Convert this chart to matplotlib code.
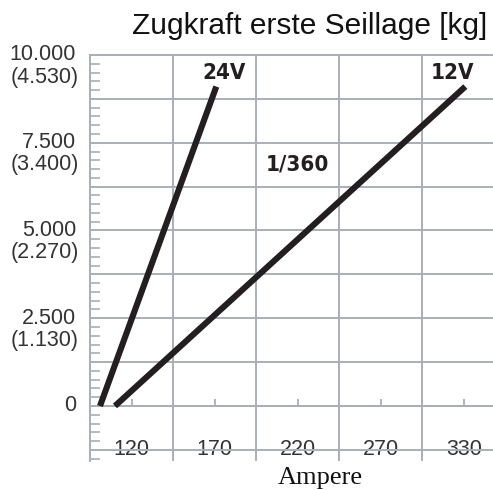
import numpy as np
import matplotlib
matplotlib.use("Agg")
import matplotlib.pyplot as plt
from matplotlib.ticker import MultipleLocator

plt.rcParams["font.family"] = ["Liberation Sans", "DejaVu Sans"]

# Ampere tick labels (axis is not linear: 270 -> 330 takes one cell)
amp_ticks = [120, 170, 220, 270, 330]
amp_cells = [145, 195, 245, 300]  # cell borders between the labels

# y ticks: kg with (daN) in brackets
kg_ticks = [0, 2500, 5000, 7500, 10000]
kg_top = ["0", "2.500", "5.000", "7.500", "10.000"]
kg_bottom = ["", "(1.130)", "(2.270)", "(3.400)", "(4.530)"]

# lines
v24_amp = [101, 171]
v24_kg = [0, 9100]
v12_amp = [110, 331]
v12_kg = [0, 9100]

grid_col = "#a9afb5"
line_col = "#231f20"
text_col = "#333333"

# piecewise linear amp -> cell mapping
_a = [20, 120, 170, 220, 270, 330, 450]
_p = [-1.5, 0.5, 1.5, 2.5, 3.5, 4.5, 6.5]


def fwd(a):
    return np.interp(a, _a, _p)


def inv(p):
    return np.interp(p, _p, _a)


fig = plt.figure(figsize=(4.93, 4.90), dpi=100)
ax = fig.add_axes([0.1826, 0.0592, 1 - 0.1826, 0.8878 - 0.0592])
ax.set_xscale("function", functions=(fwd, inv))
ax.set_xlim(95, 351)
ax.set_ylim(-1567, 10000)

ax.plot(v24_amp, v24_kg, color=line_col, lw=4.4, solid_capstyle="butt", zorder=3)
ax.plot(v12_amp, v12_kg, color=line_col, lw=4.4, solid_capstyle="butt", zorder=3)

# grid
ax.set_xticks(amp_cells)
ax.set_xticks(amp_ticks, [str(t) for t in amp_ticks], minor=True)
ax.yaxis.set_major_locator(MultipleLocator(1250))
ax.yaxis.set_minor_locator(MultipleLocator(250))
ax.grid(True, which="major", color=grid_col, lw=1.4)
ax.set_axisbelow(True)

ax.spines["right"].set_visible(False)
for s in ["left", "top", "bottom"]:
    ax.spines[s].set_color(grid_col)
    ax.spines[s].set_linewidth(1.4)
ax.spines["bottom"].set_position(("data", 0))

ax.tick_params(axis="x", which="major", length=0, labelbottom=False)
ax.tick_params(axis="x", which="minor", direction="in", length=5, width=1.3,
               color=grid_col, pad=24, labelsize=15.5, labelcolor=text_col)
ax.tick_params(axis="y", which="major", length=0, labelleft=False)
ax.tick_params(axis="y", which="minor", direction="in", length=7, width=1.2,
               color=grid_col)

ytr = ax.get_yaxis_transform()
for y, t1, t2 in zip(kg_ticks, kg_top, kg_bottom):
    ax.annotate(t1, (0, y), xycoords=ytr, xytext=(-10, 0), textcoords="offset points",
                ha="right", va="center", fontsize=15.5, color=text_col)
    if t2:
        ax.annotate(t2, (0, y), xycoords=ytr, xytext=(-8, -16), textcoords="offset points",
                    ha="right", va="center", fontsize=15.5, color=text_col)

bold = dict(fontsize=16, fontweight="bold", color=line_col, fontstretch="condensed",
            family="DejaVu Sans", va="center", ha="center")
ax.text(175.7, 9490, "24V", **bold)
ax.text(321.7, 9490, "12V", **bold)
ax.text(219.7, 6870, "1/360", **bold)

fig.text(0.629, 0.946, "Zugkraft erste Seillage [kg]", ha="center", va="center",
         fontsize=21.5, color="#111111")
fig.text(0.649, 0.025, "Ampere", ha="center", va="center",
         fontsize=19, family="Liberation Serif", color="#111111")

fig.savefig("out.png", dpi=100)
